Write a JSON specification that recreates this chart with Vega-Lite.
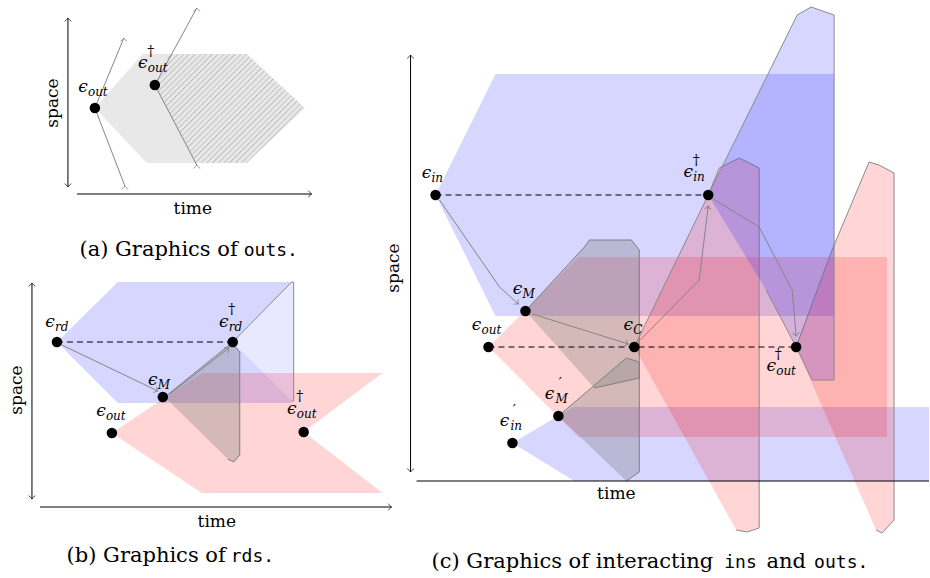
{
"$schema": "https://vega.github.io/schema/vega-lite/v6.json",
"width": 930, "height": 578, "padding": 0,
"autosize": {"type": "fit", "contains": "padding"},
"config": {"view": {"stroke": null}},
"datasets": {
"polys": [
{"id":"a1","k":"aGrey","o":1,"x":95,"y":108},{"id":"a1","k":"aGrey","o":2,"x":143,"y":54},{"id":"a1","k":"aGrey","o":3,"x":247,"y":54},{"id":"a1","k":"aGrey","o":4,"x":305,"y":108},{"id":"a1","k":"aGrey","o":5,"x":247,"y":163},{"id":"a1","k":"aGrey","o":6,"x":147,"y":163},
{"id":"a2","k":"aHatch","o":1,"x":155,"y":85},{"id":"a2","k":"aHatch","o":2,"x":170,"y":54},{"id":"a2","k":"aHatch","o":3,"x":247,"y":54},{"id":"a2","k":"aHatch","o":4,"x":305,"y":108},{"id":"a2","k":"aHatch","o":5,"x":247,"y":163},{"id":"a2","k":"aHatch","o":6,"x":197,"y":163},
{"id":"b1","k":"blueHex","o":1,"x":57,"y":342},{"id":"b1","k":"blueHex","o":2,"x":118,"y":282},{"id":"b1","k":"blueHex","o":3,"x":292,"y":282},{"id":"b1","k":"blueHex","o":4,"x":233,"y":342},{"id":"b1","k":"blueHex","o":5,"x":292,"y":401},{"id":"b1","k":"blueHex","o":6,"x":292,"y":403},{"id":"b1","k":"blueHex","o":7,"x":118,"y":403},
{"id":"b2","k":"lightBlue","o":1,"x":233,"y":342},{"id":"b2","k":"lightBlue","o":2,"x":292,"y":282},{"id":"b2","k":"lightBlue","o":3,"x":294,"y":282},{"id":"b2","k":"lightBlue","o":4,"x":294,"y":401},{"id":"b2","k":"lightBlue","o":5,"x":292,"y":401},
{"id":"b3","k":"redHex","o":1,"x":112,"y":433},{"id":"b3","k":"redHex","o":2,"x":202,"y":373},{"id":"b3","k":"redHex","o":3,"x":383,"y":373},{"id":"b3","k":"redHex","o":4,"x":304,"y":432},{"id":"b3","k":"redHex","o":5,"x":383,"y":493},{"id":"b3","k":"redHex","o":6,"x":202,"y":493},
{"id":"b4","k":"grey","o":1,"x":165,"y":397},{"id":"b4","k":"grey","o":2,"x":227,"y":347},{"id":"b4","k":"grey","o":3,"x":233,"y":344},{"id":"b4","k":"grey","o":4,"x":240,"y":352},{"id":"b4","k":"grey","o":5,"x":240,"y":455},{"id":"b4","k":"grey","o":6,"x":234,"y":462},{"id":"b4","k":"grey","o":7,"x":228,"y":459},
{"id":"c1","k":"blueHex","o":1,"x":436,"y":195},{"id":"c1","k":"blueHex","o":2,"x":496,"y":74},{"id":"c1","k":"blueHex","o":3,"x":835,"y":74},{"id":"c1","k":"blueHex","o":4,"x":835,"y":316},{"id":"c1","k":"blueHex","o":5,"x":496,"y":316},
{"id":"c2","k":"redHex","o":1,"x":489,"y":347},{"id":"c2","k":"redHex","o":2,"x":579,"y":257},{"id":"c2","k":"redHex","o":3,"x":888,"y":257},{"id":"c2","k":"redHex","o":4,"x":888,"y":437},{"id":"c2","k":"redHex","o":5,"x":579,"y":437},
{"id":"c3","k":"blueHex","o":1,"x":513,"y":443},{"id":"c3","k":"blueHex","o":2,"x":574,"y":407},{"id":"c3","k":"blueHex","o":3,"x":930,"y":407},{"id":"c3","k":"blueHex","o":4,"x":930,"y":481},{"id":"c3","k":"blueHex","o":5,"x":575,"y":481},
{"id":"c4","k":"grey","o":1,"x":526,"y":311},{"id":"c4","k":"grey","o":2,"x":585,"y":247},{"id":"c4","k":"grey","o":3,"x":590,"y":240},{"id":"c4","k":"grey","o":4,"x":632,"y":240},{"id":"c4","k":"grey","o":5,"x":640,"y":250},{"id":"c4","k":"grey","o":6,"x":640,"y":378},{"id":"c4","k":"grey","o":7,"x":595,"y":388},
{"id":"c5","k":"grey","o":1,"x":559,"y":416},{"id":"c5","k":"grey","o":2,"x":627,"y":358},{"id":"c5","k":"grey","o":3,"x":640,"y":362},{"id":"c5","k":"grey","o":4,"x":640,"y":472},{"id":"c5","k":"grey","o":5,"x":627,"y":481},
{"id":"c6","k":"redCol","o":1,"x":635,"y":347},{"id":"c6","k":"redCol","o":2,"x":709,"y":195},{"id":"c6","k":"redCol","o":3,"x":720,"y":168},{"id":"c6","k":"redCol","o":4,"x":740,"y":158},{"id":"c6","k":"redCol","o":5,"x":760,"y":168},{"id":"c6","k":"redCol","o":6,"x":760,"y":528},{"id":"c6","k":"redCol","o":7,"x":748,"y":532},{"id":"c6","k":"redCol","o":8,"x":737,"y":530},
{"id":"c7","k":"blueCol","o":1,"x":709,"y":195},{"id":"c7","k":"blueCol","o":2,"x":798,"y":15},{"id":"c7","k":"blueCol","o":3,"x":812,"y":7},{"id":"c7","k":"blueCol","o":4,"x":835,"y":15},{"id":"c7","k":"blueCol","o":5,"x":835,"y":380},{"id":"c7","k":"blueCol","o":6,"x":813,"y":380},{"id":"c7","k":"blueCol","o":7,"x":797,"y":347},{"id":"c7","k":"blueCol","o":8,"x":767,"y":290},
{"id":"c8","k":"redCol","o":1,"x":797,"y":347},{"id":"c8","k":"redCol","o":2,"x":833,"y":250},{"id":"c8","k":"redCol","o":3,"x":870,"y":162},{"id":"c8","k":"redCol","o":4,"x":880,"y":165},{"id":"c8","k":"redCol","o":5,"x":895,"y":173},{"id":"c8","k":"redCol","o":6,"x":895,"y":520},{"id":"c8","k":"redCol","o":7,"x":883,"y":533},{"id":"c8","k":"redCol","o":8,"x":877,"y":530}
],
"waves": [
{"id":"wa1","o":1,"x":125,"y":186},{"id":"wa1","o":2,"x":95,"y":108},{"id":"wa1","o":3,"x":124,"y":38},
{"id":"wa2","o":1,"x":197,"y":165},{"id":"wa2","o":2,"x":155,"y":85},{"id":"wa2","o":3,"x":197,"y":8},
{"id":"wb1","o":1,"x":62,"y":345},{"id":"wb1","o":2,"x":158,"y":391},
{"id":"wb2","o":1,"x":170,"y":394},{"id":"wb2","o":2,"x":229,"y":348},
{"id":"wc1","o":1,"x":440,"y":200},{"id":"wc1","o":2,"x":500,"y":287},{"id":"wc1","o":3,"x":519,"y":304},
{"id":"wc2","o":1,"x":533,"y":314},{"id":"wc2","o":2,"x":629,"y":344},
{"id":"wc3","o":1,"x":641,"y":340},{"id":"wc3","o":2,"x":700,"y":280},{"id":"wc3","o":3,"x":709,"y":206},
{"id":"wc4","o":1,"x":714,"y":199},{"id":"wc4","o":2,"x":760,"y":227},{"id":"wc4","o":3,"x":793,"y":290},{"id":"wc4","o":4,"x":797,"y":336}
],
"segs": [
{"k":"dash","x":436,"y":195,"x2":709,"y2":195},{"k":"dash","x":489,"y":347,"x2":797,"y2":347},{"k":"dash","x":57,"y":342,"x2":233,"y2":342},
{"k":"axis","x":68,"y":18,"x2":68,"y2":187},{"k":"axis","x":77,"y":194,"x2":312,"y2":194},
{"k":"axis","x":32,"y":283,"x2":32,"y2":499},{"k":"axis","x":40,"y":507,"x2":392,"y2":507},
{"k":"axis","x":411,"y":55,"x2":411,"y2":472},{"k":"axis","x":417,"y":481,"x2":930,"y2":481}
],
"heads": [
{"k":"black","x":68,"y":18,"ang":270},{"k":"black","x":68,"y":187,"ang":90},{"k":"black","x":312,"y":194,"ang":0},
{"k":"black","x":32,"y":283,"ang":270},{"k":"black","x":32,"y":499,"ang":90},{"k":"black","x":392,"y":507,"ang":0},
{"k":"black","x":411,"y":55,"ang":270},{"k":"black","x":411,"y":472,"ang":90},
{"k":"grey","x":124,"y":38,"ang":270},{"k":"grey","x":197,"y":8,"ang":270},{"k":"grey","x":125,"y":186,"ang":270},{"k":"grey","x":197,"y":165,"ang":270},
{"k":"grey","x":158,"y":391,"ang":26},{"k":"grey","x":229,"y":348,"ang":322},
{"k":"grey","x":519,"y":304,"ang":42},{"k":"grey","x":629,"y":344,"ang":17},{"k":"grey","x":709,"y":206,"ang":277},{"k":"grey","x":797,"y":336,"ang":85}
],
"dots": [
{"x":95,"y":108},{"x":155,"y":85},
{"x":57,"y":342},{"x":233,"y":342},{"x":163,"y":397},{"x":112,"y":433},{"x":304,"y":432},
{"x":436,"y":195},{"x":709,"y":195},{"x":526,"y":311},{"x":489,"y":347},{"x":635,"y":347},{"x":797,"y":347},{"x":559,"y":416},{"x":513,"y":443}
],
"labels": [
{"r":"sym","t":"ϵ","x":83,"y":87},{"r":"sub","t":"out","x":88,"y":92},
{"r":"sym","t":"ϵ","x":143,"y":63},{"r":"sup","t":"†","x":151,"y":52},{"r":"sub","t":"out","x":148,"y":68},
{"r":"sym","t":"ϵ","x":50,"y":322},{"r":"sub","t":"rd","x":55,"y":327},
{"r":"sym","t":"ϵ","x":224,"y":322},{"r":"sup","t":"†","x":232,"y":310},{"r":"sub","t":"rd","x":229,"y":327},
{"r":"sym","t":"ϵ","x":153,"y":380},{"r":"sub","t":"M","x":158,"y":385},
{"r":"sym","t":"ϵ","x":101,"y":411},{"r":"sub","t":"out","x":106,"y":416},
{"r":"sym","t":"ϵ","x":292,"y":409},{"r":"sup","t":"†","x":300,"y":397},{"r":"sub","t":"out","x":297,"y":414},
{"r":"sym","t":"ϵ","x":427,"y":173},{"r":"sub","t":"in","x":432,"y":178},
{"r":"sym","t":"ϵ","x":689,"y":172},{"r":"sup","t":"†","x":697,"y":161},{"r":"sub","t":"in","x":694,"y":177},
{"r":"sym","t":"ϵ","x":518,"y":289},{"r":"sub","t":"M","x":523,"y":294},
{"r":"sym","t":"ϵ","x":477,"y":325},{"r":"sub","t":"out","x":482,"y":330},
{"r":"sym","t":"ϵ","x":629,"y":325},{"r":"sub","t":"C","x":634,"y":330},
{"r":"sym","t":"ϵ","x":550,"y":394},{"r":"sup","t":"′","x":561,"y":384},{"r":"sub","t":"M","x":556,"y":399},
{"r":"sym","t":"ϵ","x":505,"y":421},{"r":"sup","t":"′","x":515,"y":411},{"r":"sub","t":"in","x":511,"y":426},
{"r":"sym","t":"ϵ","x":772,"y":366},{"r":"sup","t":"†","x":779,"y":355},{"r":"sub","t":"out","x":777,"y":371}
],
"texts": [
{"r":"space","t":"space","x":53,"y":103},{"r":"space","t":"space","x":17,"y":390},{"r":"space","t":"space","x":394,"y":268},
{"r":"time","t":"time","x":193,"y":209},{"r":"time","t":"time","x":217,"y":522},{"r":"time","t":"time","x":617,"y":494},
{"r":"capR","t":"(a) Graphics of","x":238,"y":250},{"r":"capR","t":"(b) Graphics of","x":226,"y":556},
{"r":"capL","t":"(c) Graphics of interacting","x":432,"y":562},
{"r":"capC","t":"and","x":787,"y":562},
{"r":"capM","t":"outs.","x":244,"y":251},{"r":"capM","t":"rds.","x":231,"y":557},{"r":"capM","t":"ins","x":725,"y":563},{"r":"capM","t":"outs.","x":815,"y":563}
]
},
"layer": [
{"data":{"name":"polys"},"transform":[{"filter":"datum.k == 'aGrey'"}],
 "mark":{"type":"line","fill":"#e8e8e8","strokeWidth":0},
 "encoding":{"x":{"field":"x","type":"quantitative","scale":{"domain":[0,930],"nice":false,"zero":false},"axis":null},
  "y":{"field":"y","type":"quantitative","scale":{"domain":[0,578],"nice":false,"zero":false,"reverse":true},"axis":null},
  "order":{"field":"o","type":"quantitative"},"detail":{"field":"id"}}},
{"data":{"name":"polys"},"transform":[{"filter":"datum.k == 'aHatch'"}],
 "mark":{"type":"line","strokeWidth":0,"fill":{"gradient":"linear","x1":0,"y1":0,"x2":1,"y2":0.727,"stops":[
{"offset":0,"color":"#bcbcbc"},{"offset":0.008,"color":"#e8e8e8"},{"offset":0.0225,"color":"#e8e8e8"},
{"offset":0.025,"color":"#bcbcbc"},{"offset":0.033,"color":"#e8e8e8"},{"offset":0.0475,"color":"#e8e8e8"},
{"offset":0.05,"color":"#bcbcbc"},{"offset":0.058,"color":"#e8e8e8"},{"offset":0.0725,"color":"#e8e8e8"},
{"offset":0.075,"color":"#bcbcbc"},{"offset":0.083,"color":"#e8e8e8"},{"offset":0.0975,"color":"#e8e8e8"},
{"offset":0.1,"color":"#bcbcbc"},{"offset":0.108,"color":"#e8e8e8"},{"offset":0.1225,"color":"#e8e8e8"},
{"offset":0.125,"color":"#bcbcbc"},{"offset":0.133,"color":"#e8e8e8"},{"offset":0.1475,"color":"#e8e8e8"},
{"offset":0.15,"color":"#bcbcbc"},{"offset":0.158,"color":"#e8e8e8"},{"offset":0.1725,"color":"#e8e8e8"},
{"offset":0.175,"color":"#bcbcbc"},{"offset":0.183,"color":"#e8e8e8"},{"offset":0.1975,"color":"#e8e8e8"},
{"offset":0.2,"color":"#bcbcbc"},{"offset":0.208,"color":"#e8e8e8"},{"offset":0.2225,"color":"#e8e8e8"},
{"offset":0.225,"color":"#bcbcbc"},{"offset":0.233,"color":"#e8e8e8"},{"offset":0.2475,"color":"#e8e8e8"},
{"offset":0.25,"color":"#bcbcbc"},{"offset":0.258,"color":"#e8e8e8"},{"offset":0.2725,"color":"#e8e8e8"},
{"offset":0.275,"color":"#bcbcbc"},{"offset":0.283,"color":"#e8e8e8"},{"offset":0.2975,"color":"#e8e8e8"},
{"offset":0.3,"color":"#bcbcbc"},{"offset":0.308,"color":"#e8e8e8"},{"offset":0.3225,"color":"#e8e8e8"},
{"offset":0.325,"color":"#bcbcbc"},{"offset":0.333,"color":"#e8e8e8"},{"offset":0.3475,"color":"#e8e8e8"},
{"offset":0.35,"color":"#bcbcbc"},{"offset":0.358,"color":"#e8e8e8"},{"offset":0.3725,"color":"#e8e8e8"},
{"offset":0.375,"color":"#bcbcbc"},{"offset":0.383,"color":"#e8e8e8"},{"offset":0.3975,"color":"#e8e8e8"},
{"offset":0.4,"color":"#bcbcbc"},{"offset":0.408,"color":"#e8e8e8"},{"offset":0.4225,"color":"#e8e8e8"},
{"offset":0.425,"color":"#bcbcbc"},{"offset":0.433,"color":"#e8e8e8"},{"offset":0.4475,"color":"#e8e8e8"},
{"offset":0.45,"color":"#bcbcbc"},{"offset":0.458,"color":"#e8e8e8"},{"offset":0.4725,"color":"#e8e8e8"},
{"offset":0.475,"color":"#bcbcbc"},{"offset":0.483,"color":"#e8e8e8"},{"offset":0.4975,"color":"#e8e8e8"},
{"offset":0.5,"color":"#bcbcbc"},{"offset":0.508,"color":"#e8e8e8"},{"offset":0.5225,"color":"#e8e8e8"},
{"offset":0.525,"color":"#bcbcbc"},{"offset":0.533,"color":"#e8e8e8"},{"offset":0.5475,"color":"#e8e8e8"},
{"offset":0.55,"color":"#bcbcbc"},{"offset":0.558,"color":"#e8e8e8"},{"offset":0.5725,"color":"#e8e8e8"},
{"offset":0.575,"color":"#bcbcbc"},{"offset":0.583,"color":"#e8e8e8"},{"offset":0.5975,"color":"#e8e8e8"},
{"offset":0.6,"color":"#bcbcbc"},{"offset":0.608,"color":"#e8e8e8"},{"offset":0.6225,"color":"#e8e8e8"},
{"offset":0.625,"color":"#bcbcbc"},{"offset":0.633,"color":"#e8e8e8"},{"offset":0.6475,"color":"#e8e8e8"},
{"offset":0.65,"color":"#bcbcbc"},{"offset":0.658,"color":"#e8e8e8"},{"offset":0.6725,"color":"#e8e8e8"},
{"offset":0.675,"color":"#bcbcbc"},{"offset":0.683,"color":"#e8e8e8"},{"offset":0.6975,"color":"#e8e8e8"},
{"offset":0.7,"color":"#bcbcbc"},{"offset":0.708,"color":"#e8e8e8"},{"offset":0.7225,"color":"#e8e8e8"},
{"offset":0.725,"color":"#bcbcbc"},{"offset":0.733,"color":"#e8e8e8"},{"offset":0.7475,"color":"#e8e8e8"},
{"offset":0.75,"color":"#bcbcbc"},{"offset":0.758,"color":"#e8e8e8"},{"offset":0.7725,"color":"#e8e8e8"},
{"offset":0.775,"color":"#bcbcbc"},{"offset":0.783,"color":"#e8e8e8"},{"offset":0.7975,"color":"#e8e8e8"},
{"offset":0.8,"color":"#bcbcbc"},{"offset":0.808,"color":"#e8e8e8"},{"offset":0.8225,"color":"#e8e8e8"},
{"offset":0.825,"color":"#bcbcbc"},{"offset":0.833,"color":"#e8e8e8"},{"offset":0.8475,"color":"#e8e8e8"},
{"offset":0.85,"color":"#bcbcbc"},{"offset":0.858,"color":"#e8e8e8"},{"offset":0.8725,"color":"#e8e8e8"},
{"offset":0.875,"color":"#bcbcbc"},{"offset":0.883,"color":"#e8e8e8"},{"offset":0.8975,"color":"#e8e8e8"},
{"offset":0.9,"color":"#bcbcbc"},{"offset":0.908,"color":"#e8e8e8"},{"offset":0.9225,"color":"#e8e8e8"},
{"offset":0.925,"color":"#bcbcbc"},{"offset":0.933,"color":"#e8e8e8"},{"offset":0.9475,"color":"#e8e8e8"},
{"offset":0.95,"color":"#bcbcbc"},{"offset":0.958,"color":"#e8e8e8"},{"offset":0.9725,"color":"#e8e8e8"},
{"offset":0.975,"color":"#bcbcbc"},{"offset":0.983,"color":"#e8e8e8"},{"offset":0.9975,"color":"#e8e8e8"},
{"offset":1,"color":"#bcbcbc"}]}},
 "encoding":{"x":{"field":"x","type":"quantitative","axis":null},"y":{"field":"y","type":"quantitative","axis":null},
  "order":{"field":"o","type":"quantitative"},"detail":{"field":"id"}}},
{"data":{"name":"polys"},"transform":[{"filter":"datum.k == 'blueHex'"}],
 "mark":{"type":"line","fill":"#0000ff","fillOpacity":0.16,"strokeWidth":0},
 "encoding":{"x":{"field":"x","type":"quantitative","axis":null},"y":{"field":"y","type":"quantitative","axis":null},
  "order":{"field":"o","type":"quantitative"},"detail":{"field":"id"}}},
{"data":{"name":"polys"},"transform":[{"filter":"datum.k == 'redHex'"}],
 "mark":{"type":"line","fill":"#ff0000","fillOpacity":0.165,"strokeWidth":0},
 "encoding":{"x":{"field":"x","type":"quantitative","axis":null},"y":{"field":"y","type":"quantitative","axis":null},
  "order":{"field":"o","type":"quantitative"},"detail":{"field":"id"}}},
{"data":{"name":"polys"},"transform":[{"filter":"datum.k == 'lightBlue'"}],
 "mark":{"type":"line","fill":"#0000ff","fillOpacity":0.09,"stroke":"#8a8a8a","strokeWidth":1},
 "encoding":{"x":{"field":"x","type":"quantitative","axis":null},"y":{"field":"y","type":"quantitative","axis":null},
  "order":{"field":"o","type":"quantitative"},"detail":{"field":"id"}}},
{"data":{"name":"polys"},"transform":[{"filter":"datum.k == 'grey'"}],
 "mark":{"type":"line","fill":"#808080","fillOpacity":0.33,"stroke":"#7f7f7f","strokeWidth":1},
 "encoding":{"x":{"field":"x","type":"quantitative","axis":null},"y":{"field":"y","type":"quantitative","axis":null},
  "order":{"field":"o","type":"quantitative"},"detail":{"field":"id"}}},
{"data":{"name":"polys"},"transform":[{"filter":"datum.k == 'redCol'"}],
 "mark":{"type":"line","fill":"#ff0000","fillOpacity":0.165,"stroke":"#8a8a8a","strokeWidth":1},
 "encoding":{"x":{"field":"x","type":"quantitative","axis":null},"y":{"field":"y","type":"quantitative","axis":null},
  "order":{"field":"o","type":"quantitative"},"detail":{"field":"id"}}},
{"data":{"name":"polys"},"transform":[{"filter":"datum.k == 'blueCol'"}],
 "mark":{"type":"line","fill":"#0000ff","fillOpacity":0.16,"stroke":"#8a8a8a","strokeWidth":1},
 "encoding":{"x":{"field":"x","type":"quantitative","axis":null},"y":{"field":"y","type":"quantitative","axis":null},
  "order":{"field":"o","type":"quantitative"},"detail":{"field":"id"}}},
{"data":{"name":"waves"},
 "mark":{"type":"line","stroke":"#858585","strokeWidth":1},
 "encoding":{"x":{"field":"x","type":"quantitative","axis":null},"y":{"field":"y","type":"quantitative","axis":null},
  "order":{"field":"o","type":"quantitative"},"detail":{"field":"id"}}},
{"data":{"name":"segs"},"transform":[{"filter":"datum.k == 'dash'"}],
 "mark":{"type":"rule","stroke":"#000000","strokeWidth":1,"strokeDash":[6,4]},
 "encoding":{"x":{"field":"x","type":"quantitative","axis":null},"y":{"field":"y","type":"quantitative","axis":null},
  "x2":{"field":"x2"},"y2":{"field":"y2"}}},
{"data":{"name":"segs"},"transform":[{"filter":"datum.k == 'axis'"}],
 "mark":{"type":"rule","stroke":"#000000","strokeWidth":1},
 "encoding":{"x":{"field":"x","type":"quantitative","axis":null},"y":{"field":"y","type":"quantitative","axis":null},
  "x2":{"field":"x2"},"y2":{"field":"y2"}}},
{"data":{"name":"heads"},"transform":[{"filter":"datum.k == 'black'"}],
 "mark":{"type":"point","shape":"M-1,-1Q-0.4,-0.2,0,0Q-0.4,0.2,-1,1","filled":false,"stroke":"#000000","strokeWidth":1,"size":45},
 "encoding":{"x":{"field":"x","type":"quantitative","axis":null},"y":{"field":"y","type":"quantitative","axis":null},
  "angle":{"field":"ang","type":"quantitative","scale":{"domain":[0,360],"range":[0,360]}}}},
{"data":{"name":"heads"},"transform":[{"filter":"datum.k == 'grey'"}],
 "mark":{"type":"point","shape":"M-1,-1Q-0.4,-0.2,0,0Q-0.4,0.2,-1,1","filled":false,"stroke":"#7a7a7a","strokeWidth":1,"size":45},
 "encoding":{"x":{"field":"x","type":"quantitative","axis":null},"y":{"field":"y","type":"quantitative","axis":null},
  "angle":{"field":"ang","type":"quantitative","scale":{"domain":[0,360],"range":[0,360]}}}},
{"data":{"name":"dots"},
 "mark":{"type":"circle","fill":"#000000","opacity":1,"size":110},
 "encoding":{"x":{"field":"x","type":"quantitative","axis":null},"y":{"field":"y","type":"quantitative","axis":null}}},
{"data":{"name":"labels"},"transform":[{"filter":"datum.r == 'sym'"}],
 "mark":{"type":"text","font":"DejaVu Serif","fontStyle":"italic","fontSize":17,"align":"center","baseline":"middle","fill":"#000000"},
 "encoding":{"x":{"field":"x","type":"quantitative","axis":null},"y":{"field":"y","type":"quantitative","axis":null},"text":{"field":"t"}}},
{"data":{"name":"labels"},"transform":[{"filter":"datum.r == 'sub'"}],
 "mark":{"type":"text","font":"DejaVu Serif","fontStyle":"italic","fontSize":12,"align":"left","baseline":"middle","fill":"#000000"},
 "encoding":{"x":{"field":"x","type":"quantitative","axis":null},"y":{"field":"y","type":"quantitative","axis":null},"text":{"field":"t"}}},
{"data":{"name":"labels"},"transform":[{"filter":"datum.r == 'sup'"}],
 "mark":{"type":"text","font":"DejaVu Serif","fontSize":14,"align":"center","baseline":"middle","fill":"#000000"},
 "encoding":{"x":{"field":"x","type":"quantitative","axis":null},"y":{"field":"y","type":"quantitative","axis":null},"text":{"field":"t"}}},
{"data":{"name":"texts"},"transform":[{"filter":"datum.r == 'space'"}],
 "mark":{"type":"text","font":"DejaVu Serif","fontSize":17,"align":"center","baseline":"middle","angle":270,"fill":"#000000"},
 "encoding":{"x":{"field":"x","type":"quantitative","axis":null},"y":{"field":"y","type":"quantitative","axis":null},"text":{"field":"t"}}},
{"data":{"name":"texts"},"transform":[{"filter":"datum.r == 'time'"}],
 "mark":{"type":"text","font":"DejaVu Serif","fontSize":17,"align":"center","baseline":"middle","fill":"#000000"},
 "encoding":{"x":{"field":"x","type":"quantitative","axis":null},"y":{"field":"y","type":"quantitative","axis":null},"text":{"field":"t"}}},
{"data":{"name":"texts"},"transform":[{"filter":"datum.r == 'capR'"}],
 "mark":{"type":"text","font":"DejaVu Serif","fontSize":21,"align":"right","baseline":"middle","fill":"#000000"},
 "encoding":{"x":{"field":"x","type":"quantitative","axis":null},"y":{"field":"y","type":"quantitative","axis":null},"text":{"field":"t"}}},
{"data":{"name":"texts"},"transform":[{"filter":"datum.r == 'capL'"}],
 "mark":{"type":"text","font":"DejaVu Serif","fontSize":21,"align":"left","baseline":"middle","fill":"#000000"},
 "encoding":{"x":{"field":"x","type":"quantitative","axis":null},"y":{"field":"y","type":"quantitative","axis":null},"text":{"field":"t"}}},
{"data":{"name":"texts"},"transform":[{"filter":"datum.r == 'capC'"}],
 "mark":{"type":"text","font":"DejaVu Serif","fontSize":21,"align":"center","baseline":"middle","fill":"#000000"},
 "encoding":{"x":{"field":"x","type":"quantitative","axis":null},"y":{"field":"y","type":"quantitative","axis":null},"text":{"field":"t"}}},
{"data":{"name":"texts"},"transform":[{"filter":"datum.r == 'capM'"}],
 "mark":{"type":"text","font":"DejaVu Sans Mono","fontSize":18,"align":"left","baseline":"middle","fill":"#000000"},
 "encoding":{"x":{"field":"x","type":"quantitative","axis":null},"y":{"field":"y","type":"quantitative","axis":null},"text":{"field":"t"}}}
]
}
